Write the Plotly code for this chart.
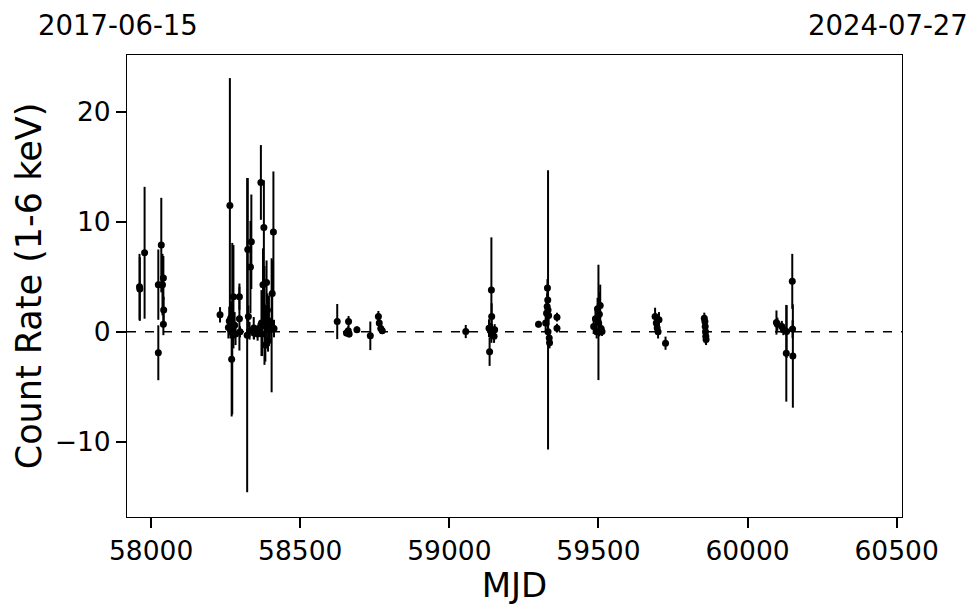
import plotly.graph_objects as go

# Observations: MJD, count rate (1-6 keV), 1-sigma error
mjd = [
    57961, 57962, 57978, 58024, 58024, 58034, 58038, 58041, 58042, 58041,
    58231, 58259, 58262, 58264, 58266, 58268, 58270, 58272, 58276, 58280,
    58283, 58296, 58296, 58298, 58322, 58324, 58326, 58330, 58333, 58336,
    58344, 58345, 58357, 58360, 58368, 58370, 58372, 58375, 58378, 58380,
    58383, 58385, 58387, 58390, 58392, 58395, 58398, 58404, 58406, 58410,
    58412,
    58624, 58655, 58662, 58661, 58664, 58690, 58735, 58762, 58765, 58770,
    58775,
    59055, 59133, 59135, 59138, 59141, 59142, 59143, 59146, 59150, 59152,
    59299, 59323, 59326, 59328, 59329, 59330, 59331, 59331, 59333, 59335,
    59336, 59361, 59361,
    59484, 59490, 59494, 59497, 59500, 59503, 59506, 59509, 59512,
    59690, 59694, 59697, 59700, 59703, 59725,
    59855, 59857, 59858, 59859, 59860, 59861,
    60097, 60100, 60115, 60120, 60130, 60131, 60150, 60151, 60152,
]
rate = [
    4.1, 3.9, 7.2, 4.3, -1.9, 7.9, 4.3, 4.9, 2.0, 0.7,
    1.55, 0.4, 1.0, 11.5, 0.2, 1.3, -2.5, 0.3, 3.2, 0.6,
    -0.2, 3.2, 1.2, 0.0, -0.3, 7.5, 1.4, 0.1, 5.9, 8.2,
    0.35, -0.1, -0.2, 0.3, 13.6, 0.8, -0.2, 4.3, 9.5, 1.5,
    -1.2, 0.5, 4.5, 2.0, -0.8, 1.0, 0.2, 0.6, 3.5, 9.1,
    0.3,
    0.94, -0.1, 0.94, 0.1, -0.2, 0.2, -0.36, 1.4, 0.8, 0.3,
    0.1,
    0.03, 0.34, -1.8, 0.1, 3.8, 1.4, 0.2, 0.05, -0.4, 0.2,
    0.7, 0.8, 1.7, 2.3, 4.0, 2.9, 2.0, 0.0, 1.5, -0.55,
    -1.0, 1.34, 0.34,
    0.5, 1.2, 0.0, 2.1, 0.86, 1.6, 2.4, 0.3, 0.03,
    1.4, 0.8, 0.35, 0.0, 1.1, -1.03,
    1.25, 0.95, 0.5, 0.0, -0.4, -0.7,
    0.85, 0.7, 0.5, 0.2, -1.95, 0.03, 4.6, 0.25, -2.2,
]
err = [
    3.0, 2.9, 6.0, 3.2, 2.5, 4.3, 2.8, 2.0, 1.2, 1.0,
    0.7, 1.0, 1.3, 11.6, 0.8, 1.5, 5.2, 7.8, 4.7, 1.2,
    1.0, 1.2, 2.9, 0.5, 14.3, 6.5, 1.0, 0.8, 4.2, 4.3,
    1.0, 0.6, 0.6, 0.5, 3.4, 3.0, 2.0, 3.3, 4.3, 4.5,
    1.5, 2.0, 2.0, 1.5, 1.0, 2.3, 0.8, 6.1, 3.0, 5.5,
    0.8,
    1.6, 0.3, 0.5, 0.4, 0.3, 0.3, 1.3, 0.5, 0.6, 0.4,
    0.3,
    0.6, 0.8, 1.3, 0.7, 4.8, 1.2, 0.5, 0.4, 0.6, 0.5,
    0.3, 0.8, 1.0, 1.2, 0.8, 1.0, 12.7, 0.7, 0.9, 0.5,
    0.5, 0.4, 0.4,
    0.7, 1.0, 0.6, 1.0, 5.25, 2.0, 1.9, 0.6, 0.4,
    0.8, 0.6, 0.5, 0.6, 0.7, 0.6,
    0.5, 0.6, 0.5, 0.8, 0.7, 0.5,
    1.1, 0.6, 0.5, 0.5, 4.4, 2.4, 2.5, 0.8, 4.7,
]

x_range = [57919, 60518]
y_range = [-16.85, 25.2]
x_ticks = [58000, 58500, 59000, 59500, 60000, 60500]
y_ticks = [-10, 0, 10, 20]
date_labels = ["2017-06-15", "2024-07-27"]

FONT = "DejaVu Sans"

fig = go.Figure()
fig.add_trace(go.Scatter(
    x=mjd, y=rate, mode="markers",
    marker=dict(color="black", size=7),
    error_y=dict(type="data", array=err, visible=True,
                 color="black", thickness=2, width=0),
    showlegend=False,
))

fig.add_shape(type="line", xref="paper", yref="y", x0=0, x1=1, y0=0, y1=0,
              line=dict(color="black", width=1.5, dash="dash"), layer="below")

for lbl, xp in zip(date_labels, [-0.0116, 0.982]):
    fig.add_annotation(text=lbl, xref="paper", yref="paper",
                       x=xp, y=1.065, showarrow=False, borderpad=0,
                       font=dict(family=FONT, size=27.5, color="black"),
                       xanchor="center", yanchor="middle")

axis_common = dict(
    showgrid=False, zeroline=False, showline=True, linecolor="black",
    linewidth=1, mirror=True, ticks="outside", ticklen=10, tickwidth=2,
    tickcolor="black", tickfont=dict(family=FONT, size=26.5, color="black"),
    automargin=False,
)
fig.update_xaxes(range=x_range, tickvals=x_ticks, tickformat="d",
                 title=dict(text="MJD", font=dict(family=FONT, size=34, color="black"),
                            standoff=4),
                 **axis_common)
fig.update_yaxes(range=y_range, tickvals=y_ticks, tickformat="d",
                 title=dict(text="Count Rate (1-6 keV)",
                            font=dict(family=FONT, size=35, color="black"),
                            standoff=2),
                 **axis_common)

fig.update_layout(
    width=964, height=597,
    margin=dict(l=119, r=70, t=47, b=88),
    plot_bgcolor="white", paper_bgcolor="white",
    font=dict(family=FONT, color="black"),
)

fig.write_html("out.html")
